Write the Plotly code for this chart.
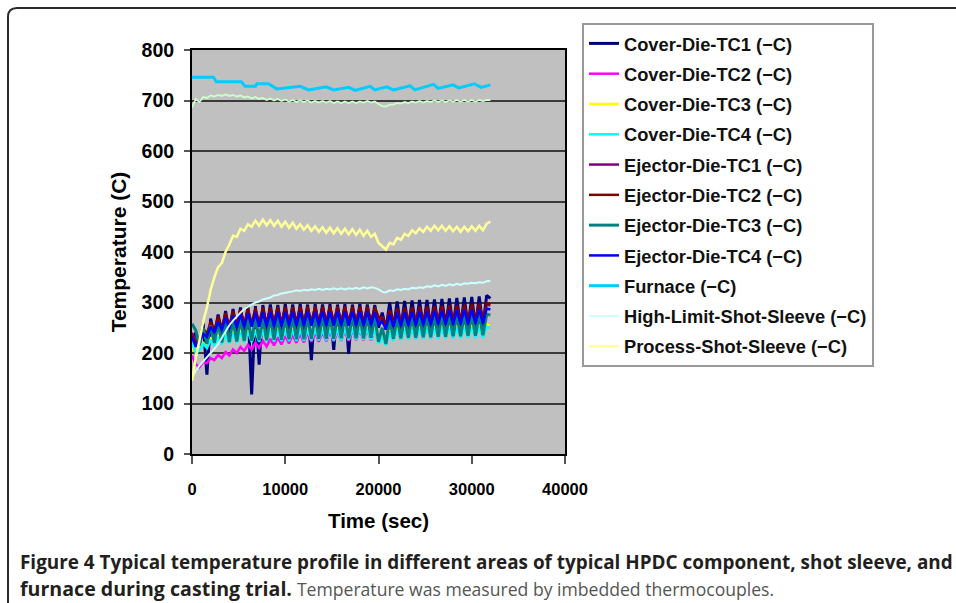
import plotly.graph_objects as go

# ---------------- data ----------------
t_die = [0, 400, 800, 1200, 1600, 2000, 2400, 2800, 3200, 3600,
         4000, 4400, 4800, 5200, 5600, 6000, 6400, 6800, 7200, 7600,
         8000, 8400, 8800, 9200, 9600, 10000, 10400, 10800, 11200, 11600,
         12000, 12400, 12800, 13200, 13600, 14000, 14400, 14800, 15200, 15600,
         16000, 16400, 16800, 17200, 17600, 18000, 18400, 18800, 19200, 19600,
         20000, 20400, 20800, 21200, 21600, 22000, 22400, 22800, 23200, 23600,
         24000, 24400, 24800, 25200, 25600, 26000, 26400, 26800, 27200, 27600,
         28000, 28400, 28800, 29200, 29600, 30000, 30400, 30800, 31200, 31600,
         32000]

cover_tc1 = [225, 240, 215, 258, 157, 268, 232, 276, 236, 283,
             238, 287, 240, 290, 241, 292, 118, 293, 177, 295,
             243, 296, 244, 295, 243, 297, 244, 296, 244, 297,
             245, 296, 186, 297, 245, 296, 244, 297, 206, 296,
             245, 297, 198, 296, 245, 297, 244, 296, 245, 295,
             250, 280, 246, 300, 247, 302, 248, 303, 248, 304,
             249, 305, 249, 305, 250, 306, 250, 307, 251, 308,
             251, 309, 252, 310, 252, 311, 253, 312, 253, 314,
             308]

cover_tc2 = [195, 178, 172, 182, 180, 190, 186, 196, 190, 202,
             195, 207, 200, 212, 204, 216, 207, 220, 210, 224,
             213, 228, 215, 231, 217, 234, 219, 236, 220, 238,
             221, 240, 222, 241, 222, 242, 223, 243, 223, 244,
             224, 245, 224, 245, 225, 246, 225, 246, 225, 247,
             222, 238, 226, 248, 227, 249, 227, 250, 228, 251,
             228, 251, 229, 252, 229, 253, 230, 253, 230, 254,
             230, 255, 231, 255, 231, 256, 232, 256, 232, 257,
             255]

cover_tc3 = [205, 212, 208, 220, 214, 228, 218, 234, 220, 238,
             222, 241, 223, 243, 224, 245, 224, 246, 225, 247,
             225, 248, 226, 248, 226, 249, 226, 249, 227, 250,
             227, 250, 227, 250, 228, 251, 228, 251, 228, 251,
             228, 252, 229, 252, 229, 252, 229, 252, 229, 251,
             220, 236, 218, 246, 228, 250, 229, 251, 229, 252,
             230, 252, 230, 253, 230, 253, 231, 254, 231, 254,
             231, 255, 232, 255, 232, 256, 232, 256, 233, 257,
             255]

cover_tc4 = [225, 200, 205, 218, 210, 226, 214, 232, 217, 236,
             219, 239, 220, 241, 221, 243, 222, 244, 222, 245,
             223, 245, 223, 246, 224, 246, 224, 246, 224, 247,
             224, 247, 225, 247, 225, 247, 225, 248, 225, 248,
             225, 248, 226, 248, 226, 248, 226, 248, 226, 247,
             218, 232, 215, 242, 224, 246, 226, 247, 227, 248,
             227, 248, 228, 249, 228, 249, 228, 250, 229, 250,
             229, 250, 229, 251, 230, 251, 230, 252, 230, 252,
             250]

ejector_tc1 = [240, 225, 222, 245, 235, 258, 242, 268, 248, 276,
               252, 281, 254, 284, 256, 286, 257, 287, 258, 288,
               258, 289, 259, 289, 259, 290, 259, 290, 260, 290,
               260, 290, 260, 291, 260, 290, 260, 291, 260, 290,
               260, 291, 260, 290, 260, 291, 260, 290, 260, 288,
               262, 272, 255, 285, 258, 288, 259, 289, 260, 290,
               260, 291, 261, 291, 261, 292, 262, 292, 262, 293,
               262, 293, 263, 294, 263, 294, 263, 295, 264, 296,
               294]

ejector_tc2 = [235, 220, 225, 248, 238, 262, 245, 272, 250, 279,
               253, 283, 255, 286, 256, 288, 257, 289, 258, 290,
               258, 290, 259, 291, 259, 291, 259, 291, 260, 292,
               260, 292, 260, 292, 260, 292, 261, 292, 261, 292,
               261, 292, 261, 292, 261, 292, 261, 292, 262, 290,
               272, 268, 256, 284, 259, 288, 260, 290, 261, 291,
               261, 292, 262, 292, 262, 293, 263, 294, 263, 295,
               264, 295, 264, 296, 265, 297, 265, 298, 266, 299,
               297]

ejector_tc3 = [258, 245, 215, 250, 218, 255, 220, 260, 221, 264,
               222, 266, 223, 268, 224, 269, 224, 270, 225, 270,
               225, 271, 226, 271, 226, 271, 227, 272, 227, 272,
               227, 272, 228, 272, 228, 273, 228, 273, 228, 273,
               229, 273, 229, 273, 229, 273, 229, 273, 230, 272,
               222, 250, 218, 268, 228, 270, 229, 271, 230, 272,
               230, 272, 231, 273, 231, 273, 232, 274, 232, 274,
               233, 275, 233, 275, 234, 276, 234, 276, 235, 277,
               275]

ejector_tc4 = [232, 212, 225, 238, 232, 252, 240, 262, 245, 270,
               248, 274, 250, 277, 251, 279, 252, 280, 252, 281,
               253, 281, 253, 282, 253, 282, 254, 282, 254, 282,
               254, 283, 254, 282, 254, 283, 254, 282, 254, 283,
               254, 282, 254, 283, 254, 282, 254, 283, 255, 281,
               256, 262, 248, 276, 252, 280, 253, 281, 254, 282,
               254, 283, 255, 283, 255, 284, 256, 284, 256, 285,
               256, 285, 257, 286, 257, 286, 258, 287, 258, 288,
               286]

t_furnace = [0, 2300, 2600, 5300, 5700, 6800, 6950, 8200, 9100, 11600,
             12500, 14400, 15200, 16800, 17500, 19100, 19600, 20900, 21600, 23400,
             23900, 25900, 26400, 28000, 28600, 30300, 31000, 32000]
furnace = [746, 746, 737, 737, 728, 728, 733, 733, 723, 728,
           721, 727, 721, 726, 720, 728, 721, 727, 721, 729,
           721, 732, 724, 731, 725, 733, 726, 731]

high_limit = [150, 165, 175, 183, 193, 200, 208, 218, 230, 243,
              255, 264, 273, 280, 287, 292, 296, 300, 302, 306,
              308, 310, 314, 315, 318, 319, 321, 322, 324, 323,
              325, 324, 326, 325, 327, 325, 327, 326, 328, 326,
              328, 326, 328, 327, 329, 327, 330, 328, 330, 329,
              326, 321, 320, 324, 323, 326, 325, 327, 326, 329,
              328, 330, 329, 332, 331, 334, 332, 335, 333, 336,
              334, 337, 335, 338, 337, 339, 338, 340, 339, 342,
              343]

unlabeled_series = [686, 703, 697, 707, 705, 710, 708, 711, 709, 712,
                    709, 711, 708, 710, 706, 708, 704, 707, 703, 705,
                    701, 704, 700, 703, 699, 702, 698, 701, 697, 700,
                    697, 700, 696, 699, 696, 699, 696, 699, 695, 698,
                    695, 698, 695, 698, 695, 698, 696, 699, 696, 698,
                    693, 689, 688, 692, 692, 695, 694, 697, 695, 698,
                    696, 699, 696, 699, 697, 700, 697, 700, 697, 700,
                    698, 701, 698, 701, 698, 701, 698, 701, 699, 701,
                    701]

process_sleeve = [145, 190, 225, 262, 290, 325, 350, 370, 378, 400,
                  415, 432, 430, 446, 442, 455, 450, 462, 452, 464,
                  453, 463, 452, 462, 450, 460, 448, 458, 446, 455,
                  444, 453, 442, 451, 440, 449, 438, 448, 437, 447,
                  436, 446, 435, 445, 434, 444, 432, 442, 430, 436,
                  418, 412, 405, 418, 415, 428, 424, 436, 432, 443,
                  437, 447, 440, 450, 442, 452, 443, 452, 442, 451,
                  441, 450, 440, 450, 441, 451, 442, 452, 443, 456,
                  460]

x_ticks = [0, 10000, 20000, 30000, 40000]
y_ticks = [0, 100, 200, 300, 400, 500, 600, 700, 800]

# ---------------- figure ----------------
W, H = 956, 603
ML, MR, MT, MB = 192, 391, 50, 149
PW, PH = W - ML - MR, H - MT - MB


def px(xp):
    return (xp - ML) / PW


def py(yp):
    return (H - MB - yp) / PH


series = [
    ("Cover-Die-TC1 (\u2212C)", t_die, cover_tc1, "#000080", 3),
    ("Cover-Die-TC2 (\u2212C)", t_die, cover_tc2, "#FF00FF", 2.5),
    ("Cover-Die-TC3 (\u2212C)", t_die, cover_tc3, "#FFFF00", 2.5),
    ("Cover-Die-TC4 (\u2212C)", t_die, cover_tc4, "#00FFFF", 2.5),
    ("Ejector-Die-TC1 (\u2212C)", t_die, ejector_tc1, "#800080", 2.5),
    ("Ejector-Die-TC2 (\u2212C)", t_die, ejector_tc2, "#800000", 2.5),
    ("Ejector-Die-TC3 (\u2212C)", t_die, ejector_tc3, "#008080", 3),
    ("Ejector-Die-TC4 (\u2212C)", t_die, ejector_tc4, "#0000FF", 2.5),
    ("Furnace (\u2212C)", t_furnace, furnace, "#00CCFF", 3),
    ("High-Limit-Shot-Sleeve (\u2212C)", t_die, high_limit, "#CCFFFF", 2),
    (None, t_die, unlabeled_series, "#CCFFCC", 1.8),
    ("Process-Shot-Sleeve (\u2212C)", t_die, process_sleeve, "#FFFF99", 2.5),
]

fig = go.Figure()
for i, (name, xs, ys, col, lw) in enumerate(series):
    fig.add_trace(go.Scatter(
        x=xs, y=ys, mode="lines", name=name if name else "",
        line=dict(color=col, width=lw),
        showlegend=name is not None,
        legendgroup="g%d" % i,
    ))

FAM = "Liberation Sans, Arial, sans-serif"
axis_font = dict(family=FAM, color="black")

fig.update_layout(
    width=W, height=H, autosize=False,
    margin=dict(l=ML, r=MR, t=MT, b=MB, pad=0),
    paper_bgcolor="white",
    plot_bgcolor="#C0C0C0",
    font=dict(family=FAM, color="black"),
    xaxis=dict(
        range=[0, 40000], tickvals=x_ticks, tickformat="d",
        showgrid=False, zeroline=False,
        showline=True, linecolor="black", linewidth=2, mirror=True,
        ticks="outside", ticklen=8, tickwidth=1.5, tickcolor="#555",
        tickfont=dict(size=16.5, weight="bold", **axis_font),
        ticklabelstandoff=11,
        title=dict(text="Time (sec)", font=dict(size=20.5, weight="bold", **axis_font), standoff=17),
    ),
    yaxis=dict(
        range=[0, 800], tickvals=y_ticks,
        showgrid=True, gridcolor="#3a3a3a", gridwidth=1.5,
        zeroline=False,
        showline=True, linecolor="black", linewidth=2, mirror=True,
        ticks="outside", ticklen=6, tickwidth=1.5, tickcolor="#555",
        tickfont=dict(size=19.5, weight="bold", **axis_font),
        ticklabelstandoff=6,
        title=dict(text="Temperature (C)", font=dict(size=21, weight="bold", **axis_font), standoff=9),
    ),
    legend=dict(
        x=px(582), y=py(23), xanchor="left", yanchor="top",
        bgcolor="white", bordercolor="#9a9a9a", borderwidth=2,
        font=dict(size=18.3, weight="bold", family=FAM, color="#111"),
        tracegroupgap=3.5, itemwidth=30, maxheight=420,
    ),
    shapes=[
        dict(type="path", xref="paper", yref="paper",
             path="M %f,%f L %f,%f Q %f,%f %f,%f L %f,%f" % (
                 px(8), py(620), px(8), py(17), px(8), py(8), px(17), py(8), px(970), py(8)),
             line=dict(color="#2a2a2a", width=2)),
    ],
    annotations=[
        dict(xref="paper", yref="paper", x=px(18), y=py(562), xanchor="left", yanchor="middle",
             showarrow=False,
             text="<b>Figure 4 Typical temperature profile in different areas of typical HPDC component, shot sleeve, and</b>",
             font=dict(family="Open Sans, sans-serif", size=18.9, color="#231f20")),
        dict(xref="paper", yref="paper", x=px(18), y=py(588), xanchor="left", yanchor="middle",
             showarrow=False,
             text="<b><span style='font-size:19.6px'>furnace during casting trial.</span></b> <span style='color:#555555;font-size:17.6px'>Temperature was measured by imbedded thermocouples.</span>",
             font=dict(family="Open Sans, sans-serif", size=18.9, color="#231f20")),
    ],
)

fig.write_html("out.html")
